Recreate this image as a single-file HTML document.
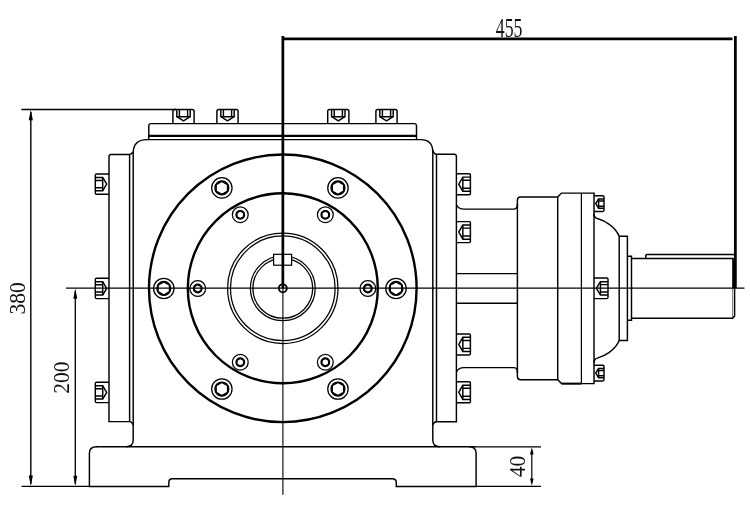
<!DOCTYPE html>
<html><head><meta charset="utf-8"><title>Gearbox outline drawing</title>
<style>
html,body{margin:0;padding:0;background:#fff;}
svg{display:block;filter:grayscale(1);}
.k{fill:none;stroke:#000;}
.o{fill:none;stroke:#000;stroke-width:1.45;}
.o2{stroke:#000;stroke-width:1.2;}
.t{fill:none;stroke:#000;stroke-width:1.25;}
.f{fill:#000;stroke:none;}
text{font-family:"Liberation Serif",serif;fill:#111;}
</style></head>
<body>
<svg width="750" height="518" viewBox="0 0 750 518">
<rect width="750" height="518" fill="#fff"/>
<path d="M735.35,36 V288.3" stroke-width="2.8" class="k"/>
<path d="M284,38.9 H732.5" stroke-width="2.7" class="k"/>
<text transform="translate(509.1,37.4) scale(0.66,1)" font-size="26.9" text-anchor="middle">455</text>
<path d="M21.3,109.5 H176" stroke-width="1.3" class="k"/>
<path d="M21.5,486.4 H90" stroke-width="1.3" class="k"/>
<path d="M30.8,112 V484" stroke-width="1.4" class="k"/>
<path d="M30.8,109.8 L28.7,120.3 H32.9 Z" class="f"/>
<path d="M30.8,486.1 L28.7,475.6 H32.9 Z" class="f"/>
<text transform="translate(24.6,298.3) rotate(-90) scale(0.915,1)" font-size="23.6" text-anchor="middle">380</text>
<path d="M75.3,291 V484" stroke-width="1.3" class="k"/>
<path d="M75.3,288.5 L73.3,298.8 H77.3 Z" class="f"/>
<path d="M75.3,486.1 L73.3,475.8 H77.3 Z" class="f"/>
<text transform="translate(69.2,377.6) rotate(-90) scale(0.90,1)" font-size="23.9" text-anchor="middle">200</text>
<path d="M476,446.8 H541" stroke-width="1.3" class="k"/>
<path d="M476,486.3 H541" stroke-width="1.3" class="k"/>
<path d="M531.8,450 V483" stroke-width="1.2" class="k"/>
<path d="M531.8,447.3 L530,454.5 H533.6 Z" class="f"/>
<path d="M531.8,485.8 L530,478.6 H533.6 Z" class="f"/>
<text transform="translate(525.2,466.5) rotate(-90) scale(0.935,1)" font-size="23" text-anchor="middle">40</text>
<path d="M148.8,139.6 V125.8 Q148.8,123.6 151,123.6 H414.3 Q416.5,123.6 416.5,125.8 V139.6" class="o"/>
<path d="M148.8,135.85 H416.5" stroke-width="2.1" class="k"/>
<path d="M172.9,123.6 V111.3 Q172.9,109.5 174.70000000000002,109.5 H192.29999999999998 Q194.1,109.5 194.1,111.3 V123.6" class="o"/>
<path d="M176.8,109.5 V116.6 L183.5,120.9 L190.2,116.6 V109.5" class="o"/>
<path d="M176.8,116.8 H190.2 M179.4,109.5 V116.6 M187.6,109.5 V116.6" class="o"/>
<path d="M216.9,123.6 V111.3 Q216.9,109.5 218.70000000000002,109.5 H236.29999999999998 Q238.1,109.5 238.1,111.3 V123.6" class="o"/>
<path d="M220.8,109.5 V116.6 L227.5,120.9 L234.2,116.6 V109.5" class="o"/>
<path d="M220.8,116.8 H234.2 M223.4,109.5 V116.6 M231.6,109.5 V116.6" class="o"/>
<path d="M327.7,123.6 V111.3 Q327.7,109.5 329.5,109.5 H347.1 Q348.90000000000003,109.5 348.90000000000003,111.3 V123.6" class="o"/>
<path d="M331.6,109.5 V116.6 L338.3,120.9 L345.0,116.6 V109.5" class="o"/>
<path d="M331.6,116.8 H345.0 M334.2,109.5 V116.6 M342.40000000000003,109.5 V116.6" class="o"/>
<path d="M375.9,123.6 V111.3 Q375.9,109.5 377.7,109.5 H395.3 Q397.1,109.5 397.1,111.3 V123.6" class="o"/>
<path d="M379.8,109.5 V116.6 L386.5,120.9 L393.2,116.6 V109.5" class="o"/>
<path d="M379.8,116.8 H393.2 M382.4,109.5 V116.6 M390.6,109.5 V116.6" class="o"/>
<path d="M126,446.7 Q133.2,446.7 133.2,440 V153 Q133.2,139.6 147,139.6 H420.5 Q432.8,139.6 432.8,152 V440 Q432.8,446.7 440,446.7" class="o"/>
<path d="M133.2,152 Q131,154.3 129.6,154.4 H111.2 Q109,154.4 109,156.6 V421.6 H129.6 Q132,421.8 133.2,425" class="o"/>
<path d="M129.6,154.4 V421.6" class="o"/>
<path d="M432.8,150.5 Q434,154 436.5,154.3 H454.2 Q456.4,154.3 456.4,156.5 V421.8 H436.5 Q434,422 432.8,425" class="o"/>
<path d="M436.5,154.3 V421.8" class="o"/>
<path d="M96,446.7 H476" class="o"/>
<path d="M96.6,446.7 Q89.4,446.7 89.4,453.2 V486.4 H168.8 V482.5 Q168.8,478.8 172.5,478.8 H392 Q396.3,478.8 396.3,482.5 V486.4 H476.1 V453.2 Q476.1,446.7 469,446.7" class="o"/>
<path d="M109,173.9 H96.6 Q95.3,173.9 95.3,175.20000000000002 V192.99999999999997 Q95.3,194.29999999999998 96.6,194.29999999999998 H109" class="o"/>
<path d="M95.3,177.5 H102.69800000000001 L106.671,184.1 L102.69800000000001,190.7 H95.3" class="o"/>
<path d="M102.69800000000001,177.5 V190.7 M95.3,180.404 H102.69800000000001 M95.3,187.796 H102.69800000000001" class="o"/>
<path d="M109,278.2 H96.6 Q95.3,278.2 95.3,279.5 V297.29999999999995 Q95.3,298.59999999999997 96.6,298.59999999999997 H109" class="o"/>
<path d="M95.3,281.79999999999995 H102.69800000000001 L106.671,288.4 L102.69800000000001,295.0 H95.3" class="o"/>
<path d="M102.69800000000001,281.79999999999995 V295.0 M95.3,284.70399999999995 H102.69800000000001 M95.3,292.096 H102.69800000000001" class="o"/>
<path d="M109,382.2 H96.6 Q95.3,382.2 95.3,383.5 V401.29999999999995 Q95.3,402.59999999999997 96.6,402.59999999999997 H109" class="o"/>
<path d="M95.3,385.79999999999995 H102.69800000000001 L106.671,392.4 L102.69800000000001,399.0 H95.3" class="o"/>
<path d="M102.69800000000001,385.79999999999995 V399.0 M95.3,388.70399999999995 H102.69800000000001 M95.3,396.096 H102.69800000000001" class="o"/>
<path d="M456.4,173.7 H469.09999999999997 Q470.4,173.7 470.4,175.0 V193.39999999999998 Q470.4,194.7 469.09999999999997,194.7 H456.4" class="o"/>
<path d="M470.4,177.1 H462.84 L458.78,184.2 L462.84,191.29999999999998 H470.4" class="o"/>
<path d="M462.84,177.1 V191.29999999999998 M470.4,180.224 H462.84 M470.4,188.176 H462.84" class="o"/>
<path d="M456.4,221.6 H469.09999999999997 Q470.4,221.6 470.4,222.9 V241.29999999999998 Q470.4,242.6 469.09999999999997,242.6 H456.4" class="o"/>
<path d="M470.4,225.0 H462.84 L458.78,232.1 L462.84,239.2 H470.4" class="o"/>
<path d="M462.84,225.0 V239.2 M470.4,228.124 H462.84 M470.4,236.076 H462.84" class="o"/>
<path d="M456.4,333.9 H469.09999999999997 Q470.4,333.9 470.4,335.2 V353.59999999999997 Q470.4,354.9 469.09999999999997,354.9 H456.4" class="o"/>
<path d="M470.4,337.29999999999995 H462.84 L458.78,344.4 L462.84,351.5 H470.4" class="o"/>
<path d="M462.84,337.29999999999995 V351.5 M470.4,340.424 H462.84 M470.4,348.376 H462.84" class="o"/>
<path d="M456.4,381.8 H469.09999999999997 Q470.4,381.8 470.4,383.1 V401.5 Q470.4,402.8 469.09999999999997,402.8 H456.4" class="o"/>
<path d="M470.4,385.2 H462.84 L458.78,392.3 L462.84,399.40000000000003 H470.4" class="o"/>
<path d="M462.84,385.2 V399.40000000000003 M470.4,388.324 H462.84 M470.4,396.276 H462.84" class="o"/>
<circle cx="282.8" cy="288.3" r="133.8" stroke-width="2.4" class="k"/>
<circle cx="282.8" cy="288.3" r="95" stroke-width="2.4" class="k"/>
<circle cx="282.8" cy="288.3" r="55.2" class="t"/>
<circle cx="282.8" cy="288.3" r="52.3" class="t"/>
<circle cx="282.8" cy="288.3" r="32.4" class="t"/>
<circle cx="282.8" cy="288.3" r="29.9" class="t"/>
<rect x="273.6" y="254.3" width="18" height="10.9" fill="#fff" class="o2"/>
<path d="M282.85,36 V288.3" stroke-width="2.7" class="k"/>
<path d="M282.9,288.3 V494.8" stroke-width="1.1" class="k"/>
<path d="M66,288.2 H744.5" stroke-width="1.2" class="k"/>
<circle cx="282.8" cy="288.3" r="4.0" stroke-width="1.8" class="k"/>
<circle cx="396.00" cy="288.45" r="10.2" class="t"/>
<circle cx="396.00" cy="288.45" r="6.9" class="o"/>
<polygon points="396.00,281.85 390.28,285.15 390.28,291.75 396.00,295.05 401.72,291.75 401.72,285.15" class="o" stroke-linejoin="round"/>
<circle cx="337.95" cy="389.00" r="10.2" class="t"/>
<circle cx="337.95" cy="389.00" r="6.9" class="o"/>
<polygon points="337.95,382.40 332.23,385.70 332.23,392.30 337.95,395.60 343.67,392.30 343.67,385.70" class="o" stroke-linejoin="round"/>
<circle cx="221.85" cy="389.00" r="10.2" class="t"/>
<circle cx="221.85" cy="389.00" r="6.9" class="o"/>
<polygon points="221.85,382.40 216.13,385.70 216.13,392.30 221.85,395.60 227.57,392.30 227.57,385.70" class="o" stroke-linejoin="round"/>
<circle cx="163.80" cy="288.45" r="10.2" class="t"/>
<circle cx="163.80" cy="288.45" r="6.9" class="o"/>
<polygon points="163.80,281.85 158.08,285.15 158.08,291.75 163.80,295.05 169.52,291.75 169.52,285.15" class="o" stroke-linejoin="round"/>
<circle cx="221.85" cy="187.90" r="10.2" class="t"/>
<circle cx="221.85" cy="187.90" r="6.9" class="o"/>
<polygon points="221.85,181.30 216.13,184.60 216.13,191.20 221.85,194.50 227.57,191.20 227.57,184.60" class="o" stroke-linejoin="round"/>
<circle cx="337.95" cy="187.90" r="10.2" class="t"/>
<circle cx="337.95" cy="187.90" r="6.9" class="o"/>
<polygon points="337.95,181.30 332.23,184.60 332.23,191.20 337.95,194.50 343.67,191.20 343.67,184.60" class="o" stroke-linejoin="round"/>
<circle cx="367.85" cy="288.55" r="7.9" class="t"/>
<circle cx="367.85" cy="288.55" r="4.2" class="o"/>
<polygon points="367.85,284.65 364.47,286.60 364.47,290.50 367.85,292.45 371.23,290.50 371.23,286.60" class="o" stroke-linejoin="round"/>
<circle cx="325.33" cy="362.29" r="7.9" class="t"/>
<circle cx="325.33" cy="362.29" r="4.2" class="o"/>
<polygon points="325.33,358.39 321.95,360.34 321.95,364.24 325.33,366.19 328.70,364.24 328.70,360.34" class="o" stroke-linejoin="round"/>
<circle cx="240.28" cy="362.29" r="7.9" class="t"/>
<circle cx="240.28" cy="362.29" r="4.2" class="o"/>
<polygon points="240.28,358.39 236.90,360.34 236.90,364.24 240.28,366.19 243.65,364.24 243.65,360.34" class="o" stroke-linejoin="round"/>
<circle cx="197.75" cy="288.55" r="7.9" class="t"/>
<circle cx="197.75" cy="288.55" r="4.2" class="o"/>
<polygon points="197.75,284.65 194.37,286.60 194.37,290.50 197.75,292.45 201.13,290.50 201.13,286.60" class="o" stroke-linejoin="round"/>
<circle cx="240.27" cy="214.81" r="7.9" class="t"/>
<circle cx="240.27" cy="214.81" r="4.2" class="o"/>
<polygon points="240.27,210.91 236.90,212.86 236.90,216.76 240.27,218.71 243.65,216.76 243.65,212.86" class="o" stroke-linejoin="round"/>
<circle cx="325.33" cy="214.81" r="7.9" class="t"/>
<circle cx="325.33" cy="214.81" r="4.2" class="o"/>
<polygon points="325.33,210.91 321.95,212.86 321.95,216.76 325.33,218.71 328.70,216.76 328.70,212.86" class="o" stroke-linejoin="round"/>
<path d="M456.4,204.8 Q458.3,209.1 464,209.1 H513.4 Q517.4,209.1 517.4,205 V200.2 Q517.4,197 520.6,197 H557.7 L561.5,193.1 H594 V383.6 H561.5 L557.7,379.7 H520.6 Q517.4,379.7 517.4,376.5 V371.7 Q517.4,367.6 513.4,367.6 H464 Q458.3,367.6 456.4,371.9" class="o"/>
<path d="M517.4,204 V373 M557.7,197 V379.7" class="o"/>
<path d="M456.4,273.6 H517.4 M456.4,303.3 H517.4" class="o"/>
<path d="M581.4,193.1 V383.6" class="t"/>
<path d="M561.5,383.6 H581.4" stroke-width="2" class="k"/>
<path d="M594,195.79999999999998 H602.7 Q604,195.79999999999998 604,197.1 V210.1 Q604,211.4 602.7,211.4 H594" class="o"/>
<path d="M604,199.0 H598.6 L595.7,203.6 L598.6,208.2 H604" class="o"/>
<path d="M598.6,199.0 V208.2 M604,201.024 H598.6 M604,206.176 H598.6" class="o"/>
<path d="M594,365.3 H602.7 Q604,365.3 604,366.6 V379.6 Q604,380.90000000000003 602.7,380.90000000000003 H594" class="o"/>
<path d="M604,368.5 H598.6 L595.7,373.1 L598.6,377.70000000000005 H604" class="o"/>
<path d="M598.6,368.5 V377.70000000000005 M604,370.524 H598.6 M604,375.67600000000004 H598.6" class="o"/>
<path d="M594,278.0 H606.7 Q608,278.0 608,279.3 V297.3 Q608,298.6 606.7,298.6 H594" class="o"/>
<path d="M608,281.7 H600.44 L596.38,288.3 L600.44,294.90000000000003 H608" class="o"/>
<path d="M600.44,281.7 V294.90000000000003 M608,284.604 H600.44 M608,291.99600000000004 H600.44" class="o"/>
<path d="M593.7,213.6 Q594,217.8 598,218.8 C604,220.5 615,226 619.2,236.2 H627.4 V340.5 H619.2 C615,350.7 604,356.2 598,357.9 Q594,358.9 593.7,363.1" class="o"/>
<path d="M619.2,236.2 V340.5" class="o"/>
<path d="M627.4,256.3 H631.5 V320.3 H627.4" class="o"/>
<path d="M631.5,258.4 H733.6 M631.5,318.2 H732.6 L734.6,316.1 V288.3" class="o"/>
<path d="M733.3,258.4 V288.3" stroke-width="2" class="k"/>
<path d="M732.6,258.4 V318.2" stroke-width="0.5" class="k"/>
<path d="M645.8,258.4 V255.6 Q645.8,254.4 647,254.4 H734" class="o"/>
</svg>
</body></html>
